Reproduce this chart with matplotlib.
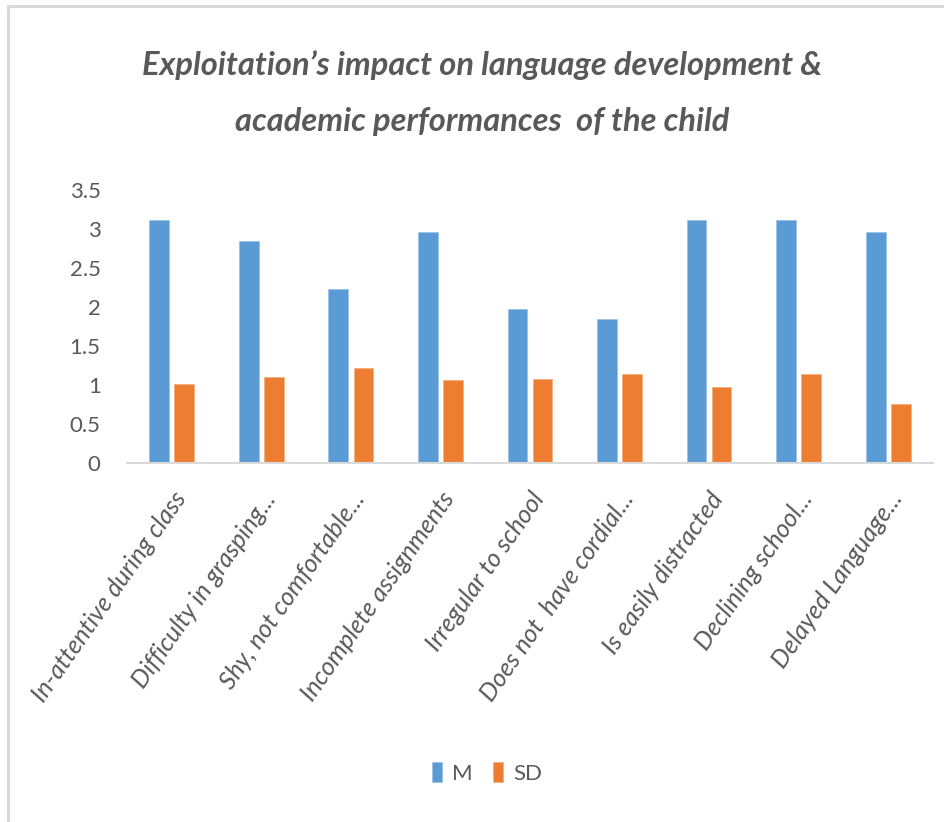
import matplotlib.pyplot as plt
import numpy as np
from matplotlib.lines import Line2D

categories = ['In-attentive during class', 'Difficulty in grasping...', 'Shy, not comfortable...',
              'Incomplete assignments', 'Irregular to school', 'Does not  have cordial...',
              'Is easily distracted', 'Declining school...', 'Delayed Language...']
m_values = [3.11, 2.84, 2.23, 2.96, 1.97, 1.85, 3.11, 3.11, 2.96]
sd_values = [1.01, 1.10, 1.22, 1.06, 1.08, 1.14, 0.97, 1.14, 0.76]
y_ticks = [0, 0.5, 1, 1.5, 2, 2.5, 3, 3.5]
y_tick_labels = ['0', '0.5', '1', '1.5', '2', '2.5', '3', '3.5']

blue = '#5B9BD5'
orange = '#ED7D31'
gray_text = '#595959'
line_gray = '#D9D9D9'

plt.rcParams['font.family'] = ['Lato', 'DejaVu Sans']

fig = plt.figure(figsize=(9.45, 8.22), dpi=100)
ax = fig.add_axes([127 / 945, 1 - 463 / 822, 806 / 945, 273 / 822])

x = np.arange(len(categories))
w = 0.22
ax.bar(x - 0.14, m_values, width=w, color=blue, edgecolor='#9DC3E6', linewidth=0.6, label='M')
ax.bar(x + 0.14, sd_values, width=w, color=orange, edgecolor='#F4B183', linewidth=0.6, label='SD')

ax.set_xlim(-0.5, len(categories) - 0.5)
ax.set_ylim(0, 3.5)
ax.set_yticks(y_ticks)
ax.set_yticklabels(y_tick_labels, fontsize=16, color=gray_text)
ax.set_xticks(x)
ax.set_xticklabels(categories, rotation=55, ha='right', rotation_mode='anchor',
                   fontsize=18, style='italic', color=gray_text)
ax.tick_params(axis='both', length=0)
ax.tick_params(axis='y', pad=19)
ax.tick_params(axis='x', pad=18)

for s in ['top', 'right', 'left']:
    ax.spines[s].set_visible(False)
ax.spines['bottom'].set_color(line_gray)
ax.spines['bottom'].set_linewidth(1.5)

fig.text(482 / 945, 1 - 65 / 822, 'Exploitation\u2019s impact on language development &',
         ha='center', va='center', fontsize=23.5, fontweight='bold', style='italic', color=gray_text)
fig.text(482 / 945, 1 - 121 / 822, 'academic performances  of the child',
         ha='center', va='center', fontsize=23.5, fontweight='bold', style='italic', color=gray_text)

fig.legend(loc='center', bbox_to_anchor=(487 / 945, 1 - 773 / 822), ncol=2, frameon=False,
           fontsize=16, handlelength=0.45, handleheight=1.0, handletextpad=0.45, columnspacing=0.9,
           labelcolor=gray_text)

# chart border (left and top edges)
fig.add_artist(Line2D([8 / 945, 8 / 945], [0, 1 - 6 / 822], color=line_gray, linewidth=2.2,
                      transform=fig.transFigure))
fig.add_artist(Line2D([8 / 945, 1], [1 - 6 / 822, 1 - 6 / 822], color=line_gray, linewidth=2.2,
                      transform=fig.transFigure))

fig.savefig('out.png', dpi=100, facecolor='white')
